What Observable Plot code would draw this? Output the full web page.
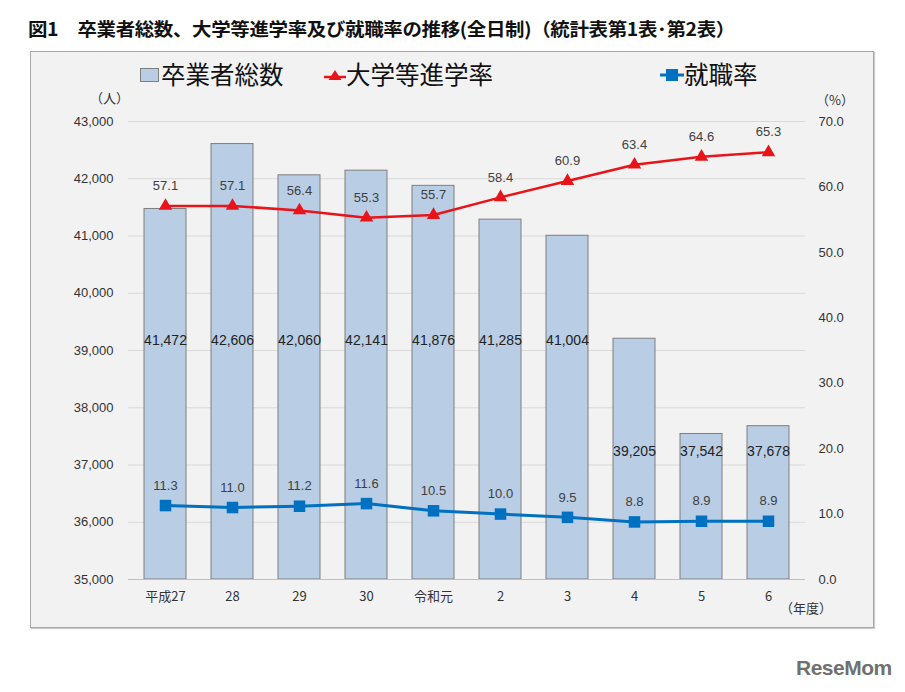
<!DOCTYPE html>
<html><head><meta charset="utf-8">
<script src="https://cdn.jsdelivr.net/npm/d3@7"></script>
<script src="https://cdn.jsdelivr.net/npm/@observablehq/plot@0.6"></script>
<style>
html,body{margin:0;padding:0;background:#fff;width:905px;height:692px;overflow:hidden;font-family:"Noto Sans CJK JP",sans-serif;}
#title{position:absolute;left:28px;top:15px;font-size:18px;font-weight:bold;color:#111;white-space:nowrap;transform-origin:0 0;letter-spacing:-0.3px;}
#panel{position:absolute;left:30px;top:51px;width:842px;height:575px;background:#f2f2f2;border:1px solid #a6a6a6;box-shadow:1px 1px 1px #ccc;}
#chart{position:absolute;left:0;top:0;}
.leg{position:absolute;font-size:24.5px;color:#111;white-space:nowrap;line-height:1;}
.unit{position:absolute;font-size:13px;color:#333;white-space:nowrap;}
#wm{position:absolute;left:796px;top:656px;font-family:"Liberation Sans",Arial,sans-serif;font-weight:bold;font-size:21px;color:#707070;letter-spacing:-0.5px;}
</style></head>
<body>
<div id="title">図1　卒業者総数、大学等進学率及び就職率の推移(全日制)（統計表第1表･第2表）</div>
<div id="panel"></div>
<div id="chart"></div>
<div class="leg" style="left:140px;top:62px;"><span style="display:inline-block;width:17px;height:12px;background:#b9cde5;border:1px solid #7f7f7f;vertical-align:middle;margin-right:2px;position:relative;top:-2px;"></span>卒業者総数</div>
<div class="leg" style="left:324px;top:62px;"><svg width="22" height="14" style="vertical-align:middle;position:relative;top:-2px;"><line x1="0" y1="9" x2="22" y2="9" stroke="#e8141a" stroke-width="2.5"/><path d="M11,2 L17.5,12 L4.5,12 Z" fill="#e8141a"/></svg>大学等進学率</div>
<div class="leg" style="left:660px;top:62px;"><svg width="24" height="14" style="vertical-align:middle;position:relative;top:-2px;"><line x1="0" y1="7" x2="24" y2="7" stroke="#0070c0" stroke-width="3"/><rect x="6" y="1" width="12" height="12" fill="#0070c0"/></svg>就職率</div>
<div class="unit" style="left:90px;top:88px;">（人）</div>
<div class="unit" style="left:816px;top:90px;">（%）</div>
<div class="unit" style="left:780px;top:598px;">（年度）</div>
<div id="wm">ReseMom</div>
<script>
const years = ["平成27","28","29","30","令和元","2","3","4","5","6"];
const graduates = [41472,42606,42060,42141,41876,41285,41004,39205,37542,37678];
const univRate = [57.1,57.1,56.4,55.3,55.7,58.4,60.9,63.4,64.6,65.3];
const jobRate = [11.3,11.0,11.2,11.6,10.5,10.0,9.5,8.8,8.9,8.9];
const leftTicks = [35000,36000,37000,38000,39000,40000,41000,42000,43000];
const rightTicks = [0,10,20,30,40,50,60,70];

const yMin = 35000, yMax = 43000, rMax = 70;
const toY = p => yMin + p * (yMax - yMin) / rMax;

const data = years.map((y, i) => ({
  year: y, total: graduates[i], univ: univRate[i], job: jobRate[i],
  labelY: graduates[i] > 40000 ? 39180 : 37240
}));

const numFont = "Liberation Sans, Arial, Noto Sans CJK JP, sans-serif";

const chart = Plot.plot({
  width: 905, height: 692,
  marginLeft: 128, marginRight: 100, marginTop: 121, marginBottom: 113,
  style: {background: "transparent", fontFamily: numFont, fontSize: "13px", color: "#333"},
  x: {type: "band", domain: years, paddingInner: 0.38, paddingOuter: 0.19, label: null},
  y: {domain: [yMin, yMax], label: null},
  marks: [
    Plot.ruleY(leftTicks, {stroke: "#d9d9d9", strokeWidth: 1}),
    Plot.barY(data, {x: "year", y1: yMin, y2: "total", fill: "#b9cde5", stroke: "#7f7f7f", strokeWidth: 1}),
    Plot.ruleY([yMin], {stroke: "#bfbfbf"}),
    Plot.text(data, {x: "year", y: "labelY", text: d => d3.format(",")(d.total), fill: "#222", fontSize: 14}),
    Plot.line(data, {x: "year", y: d => toY(d.univ), stroke: "#e8141a", strokeWidth: 2.5}),
    Plot.dot(data, {x: "year", y: d => toY(d.univ), symbol: "triangle", r: 5, fill: "#e8141a", stroke: "none"}),
    Plot.text(data, {x: "year", y: d => toY(d.univ), dy: -20, text: d => d.univ.toFixed(1), fill: "#404040", fontSize: 13}),
    Plot.line(data, {x: "year", y: d => toY(d.job), stroke: "#0070c0", strokeWidth: 3}),
    Plot.dot(data, {x: "year", y: d => toY(d.job), symbol: "square", r: 6.5, fill: "#0070c0", stroke: "none"}),
    Plot.text(data, {x: "year", y: d => toY(d.job), dy: -20, text: d => d.job.toFixed(1), fill: "#404040", fontSize: 13}),
    Plot.axisY(leftTicks, {anchor: "left", tickSize: 0, tickPadding: 15, tickFormat: d3.format(","), fontSize: 13, label: null}),
    Plot.axisY(rightTicks.map(toY), {anchor: "right", tickSize: 0, tickPadding: 13, tickFormat: v => ((v - yMin) * rMax / (yMax - yMin)).toFixed(1), fontSize: 13, label: null}),
    Plot.axisX({anchor: "bottom", tickSize: 0, tickPadding: 12, fontSize: 13, fontFamily: "Noto Sans CJK JP, sans-serif", label: null})
  ]
});
document.getElementById("chart").appendChild(chart);

const t = document.getElementById("title");
const w = t.getBoundingClientRect().width;
t.style.transform = `scaleX(${707 / w})`;
</script>
</body></html>
